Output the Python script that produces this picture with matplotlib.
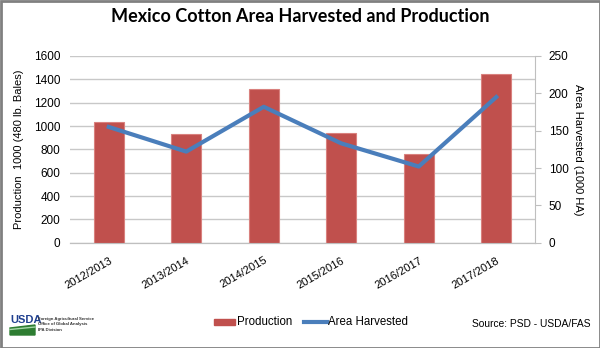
import matplotlib
matplotlib.use("Agg")
import matplotlib.pyplot as plt
from matplotlib.patches import Rectangle, Polygon
import numpy as np

categories = ["2012/2013", "2013/2014", "2014/2015", "2015/2016", "2016/2017", "2017/2018"]
production = [1032, 931, 1315, 940, 757, 1446]
area_harvested = [155, 122, 182, 133, 102, 195]

plt.rcParams['font.family'] = ['Liberation Sans', 'DejaVu Sans']

W, H = 600, 348
fig = plt.figure(figsize=(W/100, H/100), dpi=100)
ax = fig.add_axes([70/W, 1-242.7/H, (535-70)/W, (242.7-56)/H])
ax2 = ax.twinx()

x = np.arange(len(categories))
ax.bar(x, production, width=0.39, color="#C0504D", edgecolor="#D9817E", linewidth=0.8, zorder=3, label="Production")
ax2.plot(x, area_harvested, color="#4A7EBB", linewidth=3, zorder=4, label="Area Harvested")

ax.set_xlim(-0.5, len(categories)-0.5)
ax.set_ylim(0, 1600)
ax.set_yticks(np.arange(0, 1601, 200))
ax2.set_ylim(0, 250)
ax2.set_yticks(np.arange(0, 251, 50))

ax.yaxis.grid(True, color="#C8C8C8", linewidth=1, zorder=0)
ax.set_axisbelow(True)
for a in (ax, ax2):
    for s in ("top", "left"):
        a.spines[s].set_visible(False)
ax.spines["right"].set_visible(False)
ax2.spines["right"].set_color("#BFBFBF")
ax2.spines["bottom"].set_color("#BFBFBF")
ax.spines["bottom"].set_color("#BFBFBF")

ax.tick_params(axis="y", length=0, labelsize=8.5, pad=7, colors="#000000")
ax2.tick_params(axis="y", length=4, color="#BFBFBF", labelsize=8.5, pad=6)
ax.set_xticks(x)
ax.set_xticklabels(categories, rotation=30, ha="right", rotation_mode="anchor", fontsize=8)
ax.tick_params(axis="x", length=0, pad=9)

ax.set_ylabel("Production  1000 (480 lb. Bales)", fontsize=8, labelpad=7)
ax2.set_ylabel("Area Harvested (1000 HA)", fontsize=8, rotation=270, labelpad=10)

fig.text(300/W, 1-16/H, "Mexico Cotton Area Harvested and Production", ha="center", va="center",
         fontsize=13, fontweight="bold", family=["Lato", "DejaVu Sans"])

# legend
fig.patches.append(Rectangle((214/W, 1-325/H), 21/W, 6/H, transform=fig.transFigure, color="#C0504D"))
fig.text(237/W, 1-322/H, "Production", fontsize=8.3, va="center")
fig.lines.append(plt.Line2D([304/W, 327/W], [1-322/H, 1-322/H], transform=fig.transFigure, color="#4A7EBB", linewidth=3))
fig.text(328/W, 1-322/H, "Area Harvested", fontsize=8.3, va="center")

fig.text(590/W, 1-324/H, "Source: PSD - USDA/FAS", fontsize=7.4, ha="right", va="center")

# USDA logo approximation
fig.text(10/W, 1-320/H, "USDA", fontsize=8, color="#1F3F8F", fontweight="bold", va="center",
         family=["Liberation Sans Narrow", "Liberation Sans"])
fig.patches.append(Polygon([(10/W, 1-328/H), (35/W, 1-325/H), (35/W, 1-335/H), (10/W, 1-335/H)],
                           closed=True, transform=fig.transFigure, color="#2E7D32"))
fig.lines.append(plt.Line2D([10/W, 35/W], [1-329.5/H, 1-327/H], transform=fig.transFigure, color="#A5D6A7", linewidth=1))
for i, t in enumerate(["Foreign Agricultural Service", "Office of Global Analysis", "IPA Division"]):
    fig.text(38/W, 1-(319+i*5.5)/H, t, fontsize=3.1, va="center", color="#333333", fontweight="bold")

# border
fig.patches.append(Rectangle((0.5/W, 0.5/H), 1-1/W, 1-1/H, transform=fig.transFigure,
                             fill=False, edgecolor="#808080", linewidth=2))

fig.savefig("out.png", dpi=100)
